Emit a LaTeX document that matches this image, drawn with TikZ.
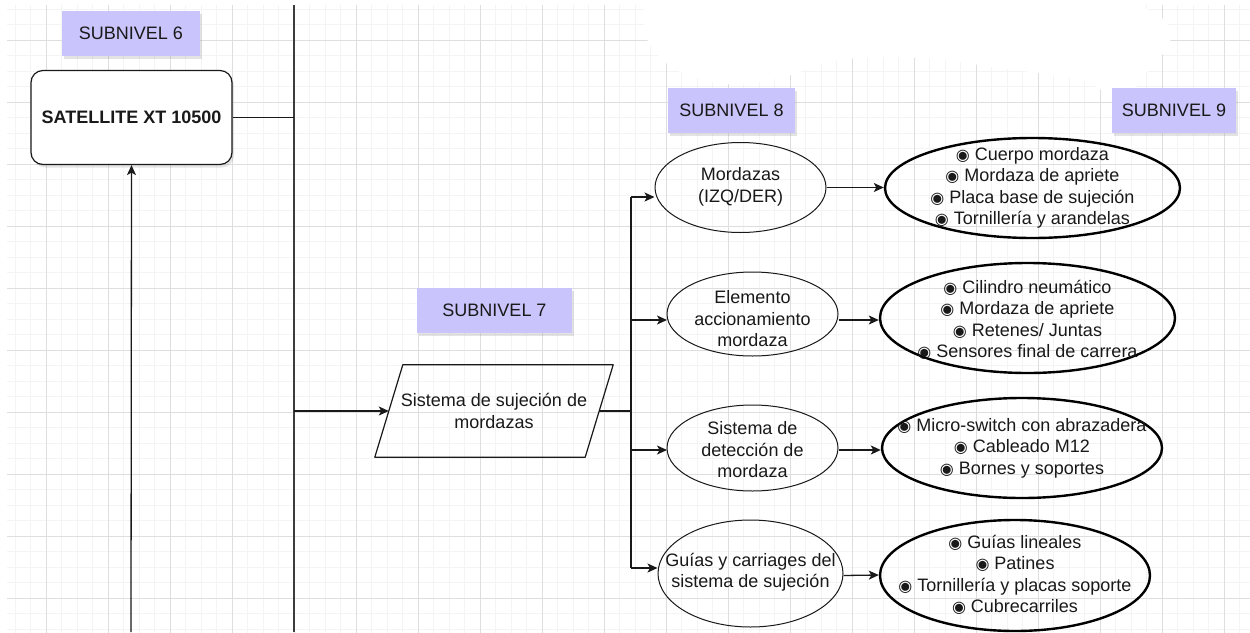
\documentclass[tikz,border=0pt]{standalone}
\usepackage{fontspec}
\setmainfont{Liberation Sans}
\newfontfamily\symfont{DejaVu Sans}
\usetikzlibrary{arrows.meta,shapes.geometric,shadows}
\definecolor{lav}{RGB}{201,196,251}
\definecolor{gmaj}{RGB}{222,222,222}
\definecolor{gmin}{RGB}{244,244,244}
\definecolor{ink}{RGB}{25,25,25}
\newcommand{\bu}{{\symfont\fontsize{16}{21}\selectfont\char"25C9}~}
\begin{document}
\begin{tikzpicture}[x=1pt,y=-1pt,
  font=\fontsize{18}{21.5}\selectfont,
  lbl/.style={fill=lav, inner sep=0, minimum height=45, text=ink,
    drop shadow={opacity=0.22, shadow xshift=2pt, shadow yshift=-3pt}},
  ln/.style={draw=ink, line width=1.3pt},
  arr/.style={draw=ink, line width=1.3pt, -{Stealth[length=10pt,width=9pt,inset=2.5pt]}},
  small/.style={ellipse, draw=ink, line width=1pt, inner sep=0},
  big/.style={ellipse, draw=black, line width=2.4pt, inner sep=0},
  txt/.style={align=center, inner sep=0, text=ink}]
\useasboundingbox (0,0) rectangle (1250,632);
\fill[white] (0,0) rectangle (1250,632);
% grid
\begin{scope}
\clip (7,5) rectangle (1250,632);
\foreach \i in {-3,...,78} \draw[gmin, line width=0.8pt] ({46+15.5*\i},0) -- ++(0,640);
\foreach \i in {-3,...,40} \draw[gmin, line width=0.8pt] (0,{40+15.5*\i}) -- ++(1260,0);
\foreach \i in {-1,...,20} \draw[gmaj, line width=1pt] ({46+62*\i},0) -- ++(0,640);
\foreach \i in {-1,...,10} \draw[gmaj, line width=1pt] (0,{40+62*\i}) -- ++(1260,0);
\end{scope}
% erased white area
\fill[white] plot[smooth cycle, tension=0.6] coordinates {(650,6) (720,2) (850,2) (1000,2) (1120,4) (1162,18) (1170,42) (1150,68) (1122,98) (1080,80) (1000,68) (920,58) (840,60) (780,78) (728,84) (680,72) (652,48) (644,24)};

% labels
\node[lbl, minimum width=138] (s6) at (131,33) {SUBNIVEL 6};
\node[lbl, minimum width=155] (s7) at (494.5,310.5) {SUBNIVEL 7};
\node[lbl, minimum width=127] (s8) at (731.5,110.5) {SUBNIVEL 8};
\node[lbl, minimum width=124] (s9) at (1174,110.5) {SUBNIVEL 9};

% level 6
\node[draw=ink, line width=1.2pt, rounded corners=12, minimum width=201, minimum height=94, inner sep=0, fill=white,
  drop shadow={opacity=0.2, shadow xshift=2pt, shadow yshift=-3pt}] (sat) at (131.5,117.5) {};
\node[txt, font=\fontsize{18}{21}\selectfont\bfseries] (satt) at (131.5,117) {SATELLITE XT 10500};
\coordinate (vt) at (294,5);
\coordinate (vb) at (294,632);
\draw[draw=ink!85, line width=2.2pt] (vt) -- (vb);
\draw[ln] (sat.east) -- (sat.east -| vt);
\coordinate (a6) at (131,632);
\draw[arr] (a6) -- (sat.south);

% level 7
\node[minimum width=210, minimum height=92, inner sep=0] (par) at (494,411) {};
\draw[draw=ink, line width=1.2pt, line join=round]
  ([xshift=14pt]par.north west) -- ([xshift=14pt]par.north east)
  -- ([xshift=-14pt]par.south east) -- ([xshift=-14pt]par.south west) -- cycle;
\node[txt] (part) at (494,411) {Sistema de sujeción de\\mordazas};
\draw[arr] (par.west -| vt) -- (par.west);
\coordinate (bt) at (631,197);
\coordinate (bb) at (631,568);
\draw[ln] (par.east) -- (par.east -| bt);
\draw[ln] (bt) -- (bb);

% level 8
\node[small, minimum width=171, minimum height=90] (m1) at (740.5,187.5) {};
\node[txt] (m1t) at (740.5,187) {Mordazas\\(IZQ/DER)};
\node[small, minimum width=171, minimum height=84] (m2) at (752.5,314) {};
\node[txt] (m2t) at (752.5,319) {Elemento\\accionamiento\\mordaza};
\node[small, minimum width=171, minimum height=86] (m3) at (752.5,448) {};
\node[txt] (m3t) at (752.5,450) {Sistema de\\detección de\\mordaza};
\node[small, minimum width=185, minimum height=107] (m4) at (750.5,573.5) {};
\node[txt] (m4t) at (750.5,572) {Guías y carriages del\\sistema de sujeción};

\draw[arr] (bt) -- (bt -| m1.west);
\draw[arr] (m2.west -| bt) ++(0,6) -- ++(36,0);
\draw[arr] (m3.west -| bt) ++(0,2) -- ++(36,0);
\draw[arr] (bb) -- (bb -| m4.west);

% level 9
\node[big, minimum width=295, minimum height=100] (b1) at (1032.5,188) {};
\node[txt] (b1t) at (1032.5,188) {\bu Cuerpo mordaza\\\bu Mordaza de apriete\\\bu Placa base de sujeción\\\bu Tornillería y arandelas};
\node[big, minimum width=295, minimum height=110] (b2) at (1027.5,318) {};
\node[txt] (b2t) at (1027.5,320) {\bu Cilindro neumático\\\bu Mordaza de apriete\\\bu Retenes/ Juntas\\\bu Sensores final de carrera};
\node[big, minimum width=280, minimum height=100] (b3) at (1022,448) {};
\node[txt] (b3t) at (1022,448) {\bu Micro-switch con abrazadera\\\bu Cableado M12\\\bu Bornes y soportes};
\node[big, minimum width=270, minimum height=111] (b4) at (1015,575.5) {};
\node[txt] (b4t) at (1015,575) {\bu Guías lineales\\\bu Patines\\\bu Tornillería y placas soporte\\\bu Cubrecarriles};

\draw[arr] (m1.east) -- (m1.east -| b1.west);
\draw[arr] (m2.east) ++(0,6) -- (b2.west |- 0,320);
\draw[arr] (m3.east) ++(0,2) -- (b3.west |- 0,450);
\draw[arr] (m4.east) ++(0,2) -- (b4.west |- 0,575);
\end{tikzpicture}
\end{document}
